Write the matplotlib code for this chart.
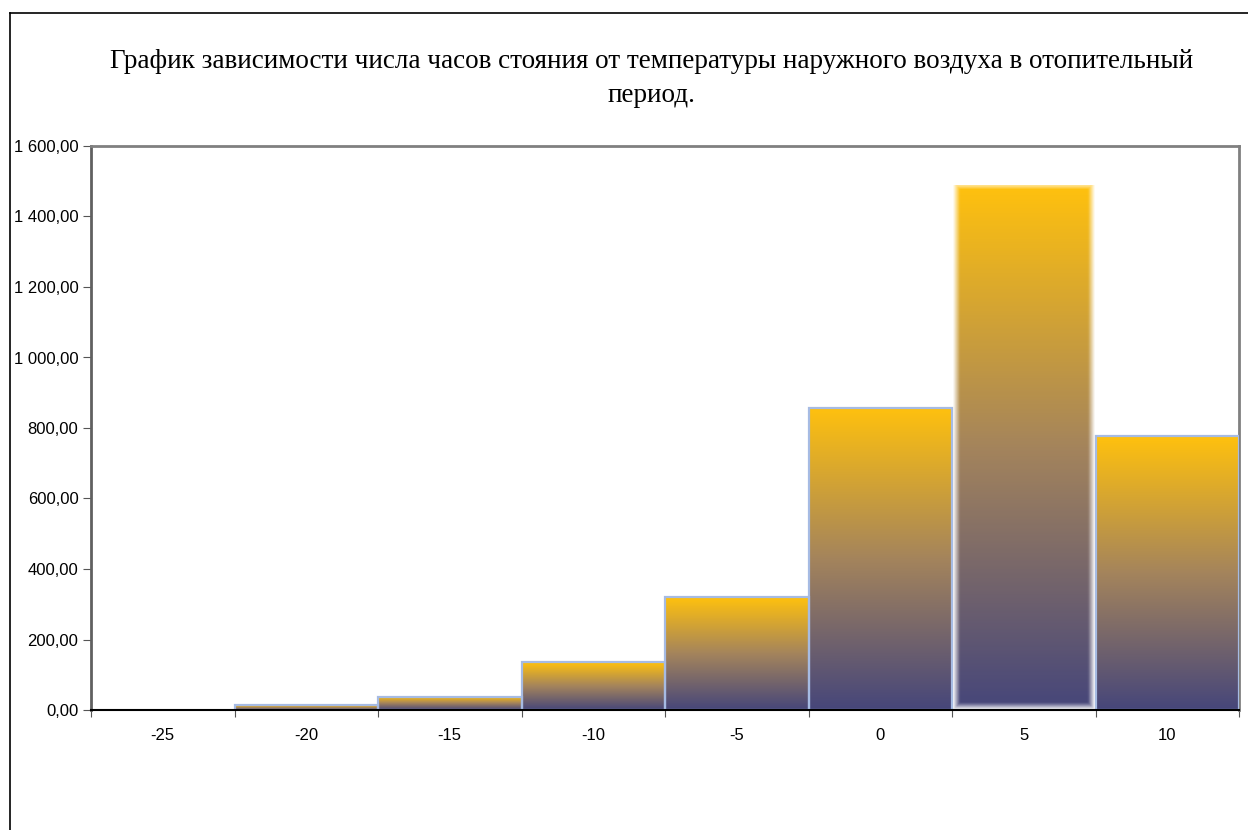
import numpy as np
import matplotlib.pyplot as plt
from matplotlib.colors import LinearSegmentedColormap
from matplotlib.lines import Line2D
from matplotlib.ticker import FuncFormatter

temps = ['-25', '-20', '-15', '-10', '-5', '0', '5', '10']
hours = [0, 13, 37, 136, 320, 857, 1489, 777]
glow_idx = 6  # this bar is drawn blurred in the original

title = ('График зависимости числа часов стояния от температуры наружного воздуха в отопительный\n'
         'период.')

cmap = LinearSegmentedColormap.from_list('gold', ['#46467a', '#a4845c', '#ffc10e'])
edge = '#a6bbe3'

fig = plt.figure(figsize=(12.48, 8.30), dpi=100)
W, H = 1248, 830
ax = fig.add_axes([91 / W, 1 - 710 / H, (1239 - 91) / W, (710 - 146) / H])

grad = np.linspace(0, 1, 256).reshape(-1, 1)
for i, v in enumerate(hours):
    if v <= 0:
        continue
    if i == glow_idx:
        # soft-edged bar
        ny, nx = 300, 120
        rgba = cmap(np.tile(np.linspace(0, 1, ny).reshape(-1, 1), (1, nx)))
        top_px = v * 0.3525
        yy = np.linspace(0, 1, ny).reshape(-1, 1) * top_px
        xx = np.linspace(0, 1, nx).reshape(1, -1) * 143.5
        d = np.minimum(np.minimum(xx - 4, 143.5 - 4 - xx), np.minimum(yy - 3, top_px - yy))
        rgba[..., 3] = np.clip(d / 7.0 + 0.5, 0, 1)
        ax.imshow(rgba, extent=(i - 0.5, i + 0.5, 0, v), origin='lower',
                  aspect='auto', interpolation='bilinear', zorder=2)
    else:
        ax.imshow(grad, extent=(i - 0.5, i + 0.5, 0, v), origin='lower', cmap=cmap,
                  aspect='auto', interpolation='bilinear', zorder=2)
        ax.bar(i, v, width=1.0, facecolor='none', edgecolor=edge, linewidth=1.6, zorder=3)

ax.set_xlim(-0.5, 7.5)
ax.set_ylim(0, 1600)
ax.set_yticks(np.arange(0, 1601, 200))
ax.yaxis.set_major_formatter(FuncFormatter(
    lambda y, p: '{:,.2f}'.format(y).replace(',', ' ').replace('.', ',')))
ax.set_xticks(np.arange(-0.5, 8, 1))
ax.set_xticklabels([])
ax.set_xticks(np.arange(len(temps)), minor=True)
ax.set_xticklabels(temps, minor=True)
ax.tick_params(axis='x', which='minor', length=0, pad=13, labelsize=12)
ax.tick_params(axis='x', which='major', length=5, color='#555555')
ax.tick_params(axis='y', length=6, labelsize=12, color='#555555', pad=3)
for lab in ax.get_yticklabels() + ax.get_xticklabels(minor=True):
    lab.set_fontfamily('Liberation Sans')

for s in ['top', 'right', 'left']:
    ax.spines[s].set_color('#808080')
    ax.spines[s].set_linewidth(2)
ax.spines['left'].set_color('#606060')
ax.spines['bottom'].set_color('black')
ax.spines['bottom'].set_linewidth(1.5)
ax.spines['bottom'].set_zorder(5)

fig.text(651.5 / W, 1 - 78.5 / H, title, ha='center', va='center', fontsize=19.5,
         family='Liberation Serif', linespacing=1.5)

fig.add_artist(Line2D([9.5 / W, 9.5 / W], [0, 1 - 13 / H], color='black', lw=1.2))
fig.add_artist(Line2D([9.5 / W, 1], [1 - 13 / H, 1 - 13 / H], color='black', lw=1.2))

fig.savefig('out.png', dpi=100)
